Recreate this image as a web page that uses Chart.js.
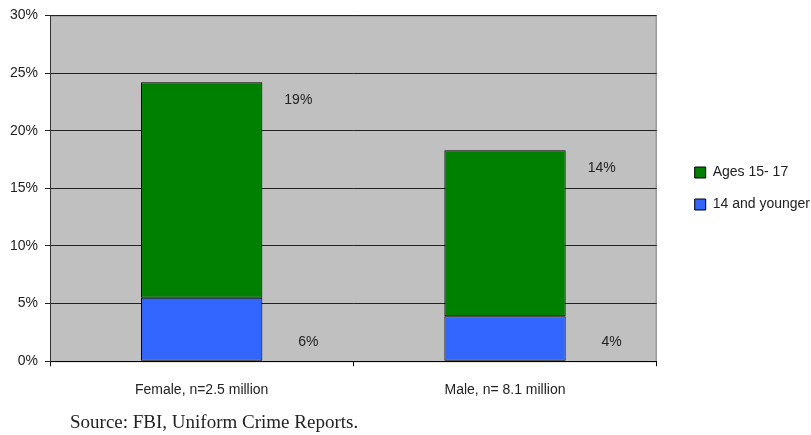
<!DOCTYPE html>
<html lang="en">
<head>
  <meta charset="UTF-8">
  <title>Juvenile Arrests by Age</title>
  <script src="https://cdn.jsdelivr.net/npm/chart.js"></script>
  <style>
    body {
      margin: 0;
      background: white;
      font-family: "Liberation Sans", Arial, sans-serif;
    }

    .wrap {
      position: relative;
      width: 811px;
      height: 435px;
    }

    .source {
      position: absolute;
      left: 70px;
      top: 411px;
      font-family: "Liberation Serif", "Times New Roman", serif;
      font-size: 19px;
      color: #222;
      white-space: nowrap;
    }
  </style>
</head>
<body>
  <div class="wrap">
    <canvas id="arrestChart" width="811" height="435"></canvas>
    <div class="source">Source: FBI, Uniform Crime Reports.</div>
  </div>

  <script>
    const categories = ['Female, n=2.5 million', 'Male, n= 8.1 million'];
    const youngerShare = [5.5, 3.9];     // 14 and younger, % of arrests
    const olderShare = [18.7, 14.4];     // ages 15-17, % of arrests
    const yMax = 30;
    const yStep = 5;

    // grey plot background with a thin border
    const plotBackground = {
      id: 'plotBackground',
      beforeDraw(chart) {
        const { ctx, chartArea: a } = chart;
        ctx.save();
        ctx.fillStyle = '#c0c0c0';
        ctx.fillRect(a.left, a.top, a.right - a.left, a.bottom - a.top);
        ctx.strokeStyle = '#808080';
        ctx.lineWidth = 1;
        ctx.strokeRect(a.left + 0.5, a.top + 0.5, a.right - a.left - 1, a.bottom - a.top);
        ctx.restore();
      }
    };

    // percentage labels to the right of each segment
    const segmentLabels = {
      id: 'segmentLabels',
      afterDatasetsDraw(chart) {
        const { ctx } = chart;
        ctx.save();
        ctx.font = '14px "Liberation Sans", Arial, sans-serif';
        ctx.fillStyle = '#222';
        ctx.textAlign = 'center';
        ctx.textBaseline = 'middle';
        chart.data.datasets.forEach((ds, i) => {
          chart.getDatasetMeta(i).data.forEach((bar, j) => {
            const right = bar.x + bar.width / 2;
            const text = Math.round(ds.data[j]) + '%';
            if (i === 0) {
              ctx.fillText(text, right + 46, bar.base - 19);
            } else {
              ctx.fillText(text, right + 36, bar.y + 18);
            }
          });
        });
        ctx.restore();
      }
    };

    // move the legend out from the plot and up a bit
    const legendNudge = {
      id: 'legendNudge',
      afterLayout(chart) {
        const lg = chart.legend;
        lg.left += 20;
        lg.right += 20;
        lg.top -= 26;
        lg.bottom -= 26;
      }
    };

    const ctx = document.getElementById('arrestChart').getContext('2d');

    new Chart(ctx, {
      type: 'bar',
      data: {
        labels: categories,
        datasets: [
          {
            label: '14 and younger',
            data: youngerShare,
            backgroundColor: '#3366ff',
            borderColor: '#000',
            borderWidth: 1,
            borderSkipped: false,
            categoryPercentage: 1,
            barPercentage: 0.4
          },
          {
            label: 'Ages 15- 17',
            data: olderShare,
            backgroundColor: '#008000',
            borderColor: '#000',
            borderWidth: 1,
            borderSkipped: false,
            categoryPercentage: 1,
            barPercentage: 0.4
          }
        ]
      },
      options: {
        responsive: false,
        animation: false,
        layout: {
          padding: { top: 14, right: 11, bottom: 20, left: 0 }
        },
        plugins: {
          legend: {
            position: 'right',
            reverse: true,
            labels: {
              boxWidth: 11,
              boxHeight: 11,
              padding: 18,
              color: '#222',
              font: { family: '"Liberation Sans", Arial, sans-serif', size: 14 }
            }
          },
          tooltip: { enabled: false }
        },
        scales: {
          x: {
            stacked: true,
            offset: true,
            grid: {
              offset: true,
              drawOnChartArea: false,
              drawTicks: true,
              tickLength: 5,
              color: '#000'
            },
            border: { color: '#000' },
            ticks: {
              padding: 16,
              color: '#222',
              font: { family: '"Liberation Sans", Arial, sans-serif', size: 14 }
            }
          },
          y: {
            stacked: true,
            min: 0,
            max: yMax,
            afterFit(scale) {
              scale.width = 50;
            },
            grid: {
              color: '#222',
              tickLength: 5,
              drawTicks: true
            },
            border: { color: '#333' },
            ticks: {
              stepSize: yStep,
              padding: 7,
              color: '#222',
              font: { family: '"Liberation Sans", Arial, sans-serif', size: 14 },
              callback: v => v + '%'
            }
          }
        }
      },
      plugins: [plotBackground, segmentLabels, legendNudge]
    });
  </script>
</body>
</html>
